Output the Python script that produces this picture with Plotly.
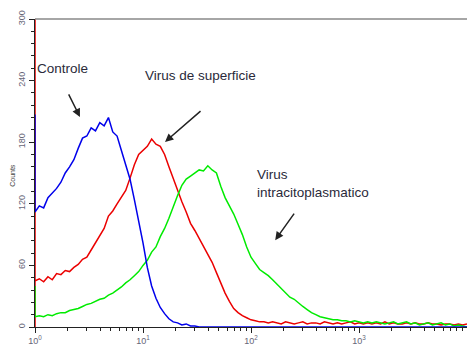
import plotly.graph_objects as go

# channel positions (log10 of FL1-H), 25 channels per decade
channel_log = [round(i * 0.04, 2) for i in range(101)]

# Controle (blue)
blue_first = [207]
blue_counts = [112, 118, 116, 126, 130, 135, 141, 150, 156, 163,
               174, 184, 186, 194, 191, 199, 196, 204, 190, 186,
               172, 158, 144, 124, 104, 82, 58, 40, 28, 19,
               13, 8, 5, 4, 2, 3, 1, 1] + [0] * 63

# Virus de superficie (red)
red_first = [0, 310]
red_counts = [45, 47, 44, 49, 46, 52, 51, 55, 54, 58,
              61, 66, 68, 75, 82, 90, 96, 108, 113, 120,
              127, 133, 145, 158, 168, 172, 176, 183, 178, 176,
              168, 156, 144, 134, 122, 112, 101, 94, 86, 78,
              71, 63, 53, 43, 33, 25, 18, 14, 11, 9,
              7, 6, 5, 5, 4, 5,
              4, 3, 5, 4, 3, 4, 5, 3, 4, 4, 3, 5, 4, 3, 4, 3, 4, 5, 3, 4,
              3, 4, 3, 4, 3, 5, 3, 4, 3, 3, 4, 3, 4, 3, 3, 4, 3, 3, 2, 3,
              3, 2, 3, 2, 3]

# Virus intracitoplasmatico (green)
green_first = [40]
green_counts = [10, 11, 10, 12, 11, 13, 14, 14, 16, 17,
                18, 20, 22, 23, 25, 27, 28, 31, 33, 36,
                39, 43, 46, 50, 54, 60, 65, 73, 78, 88,
                96, 106, 118, 128, 138, 144, 147, 150, 153, 152,
                157, 153, 150, 137, 126, 118, 110, 100, 90, 78,
                68, 62, 56, 53, 50, 46, 42, 38, 33, 29,
                27, 23, 20, 17, 14, 12, 10, 9, 8, 7,
                7, 6, 6, 5, 6, 5, 4, 5, 4, 5,
                4, 3, 4, 5, 3, 4, 5, 3, 4, 2,
                3, 4, 2, 3, 4, 2, 3, 1, 2, 1, 0]

x_tickvals = [1, 10, 100, 1000, 10000]
x_ticktext = ["10<sup>0</sup>", "10<sup>1</sup>", "10<sup>2</sup>", "10<sup>3</sup>", "10<sup>4</sup>"]
x_minor = [m * 10 ** d for d in range(4) for m in range(2, 10)]
y_tickvals = [0, 60, 120, 180, 240, 300]

xs = [10 ** v for v in channel_log]

fig = go.Figure()
fig.add_trace(go.Scatter(x=[1, 1] + xs, y=red_first + red_counts, mode="lines",
                         line=dict(color="rgb(235,0,0)", width=1.5), name="Virus de superficie"))
fig.add_trace(go.Scatter(x=[1] + xs, y=green_first + green_counts, mode="lines",
                         line=dict(color="rgb(0,235,0)", width=1.5), name="Virus intracitoplasmatico"))
fig.add_trace(go.Scatter(x=[1] + xs, y=blue_first + blue_counts, mode="lines",
                         line=dict(color="rgb(0,0,235)", width=1.5), name="Controle"))

tickfont = dict(family="Liberation Sans", size=9, color="#667")

fig.update_layout(
    width=467, height=349,
    margin=dict(l=35, r=0, t=19, b=22),
    paper_bgcolor="white", plot_bgcolor="white",
    showlegend=False,
    xaxis=dict(type="log", range=[0, 4], showgrid=False, zeroline=False,
               showline=True, linecolor="#222", linewidth=1,
               tickmode="array", tickvals=x_tickvals, ticktext=x_ticktext,
               ticks="outside", ticklen=5, tickcolor="#222", tickfont=tickfont,
               minor=dict(tickvals=x_minor, ticks="outside", ticklen=3, tickcolor="#222")),
    yaxis=dict(range=[0, 300], showgrid=False, zeroline=False,
               showline=True, linecolor="#222", linewidth=1,
               tickmode="array", tickvals=y_tickvals, tickangle=-90,
               ticks="outside", ticklen=5, tickcolor="#222", tickfont=tickfont,
               minor=dict(dtick=12, ticks="outside", ticklen=3, tickcolor="#222")),
)

fig.add_shape(type="line", xref="paper", yref="paper", x0=0, x1=1, y0=1, y1=1,
              line=dict(color="#888", width=1.5))

textfont = dict(family="Liberation Sans", size=13.5, color="#2a2a3a")
fig.add_annotation(text="Controle", xref="paper", yref="paper", x=0.0648, y=0.838,
                   xanchor="center", yanchor="middle", showarrow=False, font=textfont)
fig.add_annotation(text="Virus de superficie", xref="paper", yref="paper", x=0.382, y=0.815,
                   xanchor="center", yanchor="middle", showarrow=False, font=textfont)
fig.add_annotation(text="Virus<br>intracitoplasmatico", xref="paper", yref="paper",
                   x=0.51, y=0.466, xanchor="left", yanchor="middle", align="left",
                   showarrow=False, font=textfont)

arrow_style = dict(showarrow=True, arrowhead=2, arrowsize=1.1, arrowwidth=1.5,
                   arrowcolor="#222", text="", xref="paper", yref="paper")
fig.add_annotation(x=0.104, y=0.682, ax=-12, ay=-24, **arrow_style)
fig.add_annotation(x=0.301, y=0.601, ax=37, ay=-32, **arrow_style)
fig.add_annotation(x=0.556, y=0.282, ax=20, ay=-28, **arrow_style)

fig.add_annotation(text="Counts", xref="paper", yref="paper", x=-0.051, y=0.494,
                   xanchor="center", yanchor="middle",
                   textangle=-90, showarrow=False,
                   font=dict(family="Liberation Sans", size=7, color="#444"))
fig.add_annotation(text="FL1-H", xref="paper", yref="paper", x=0.51, y=-0.058,
                   xanchor="center", yanchor="top",
                   showarrow=False,
                   font=dict(family="Liberation Sans", size=8, color="#444"))

fig.write_html("out.html")
